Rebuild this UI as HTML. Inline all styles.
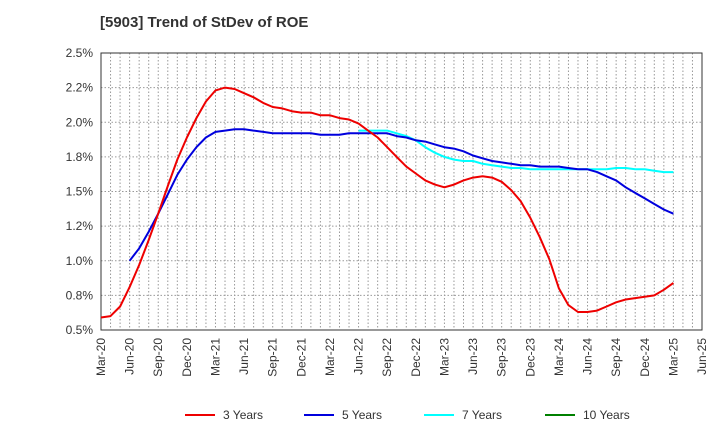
<!DOCTYPE html>
<html><head><meta charset="utf-8"><style>
body{margin:0;background:#fff;font-family:"Liberation Sans",sans-serif}
svg text{font-family:"Liberation Sans",sans-serif}
</style></head><body>
<svg id="c" width="720" height="440">
<text x="100" y="27" font-size="15" font-weight="bold" fill="#333">[5903]  Trend of StDev of ROE</text>
</svg>
<script>
const xLabels=["Mar-20","Jun-20","Sep-20","Dec-20","Mar-21","Jun-21","Sep-21","Dec-21","Mar-22","Jun-22","Sep-22","Dec-22","Mar-23","Jun-23","Sep-23","Dec-23","Mar-24","Jun-24","Sep-24","Dec-24","Mar-25","Jun-25"];
const yTicks=[0.5,0.75,1.0,1.25,1.5,1.75,2.0,2.25,2.5];
const yTickLabels=["0.5%","0.8%","1.0%","1.2%","1.5%","1.8%","2.0%","2.2%","2.5%"];
const s3=[0.59,0.60,0.67,0.81,0.97,1.15,1.34,1.54,1.73,1.89,2.03,2.15,2.23,2.25,2.24,2.21,2.18,2.14,2.11,2.10,2.08,2.07,2.07,2.05,2.05,2.03,2.02,1.99,1.94,1.89,1.82,1.75,1.68,1.63,1.58,1.55,1.53,1.55,1.58,1.60,1.61,1.60,1.57,1.51,1.43,1.31,1.17,1.01,0.80,0.68,0.63,0.63,0.64,0.67,0.70,0.72,0.73,0.74,0.75,0.79,0.84];
const s5Start=3;
const s5=[1.00,1.09,1.21,1.34,1.48,1.62,1.73,1.82,1.89,1.93,1.94,1.95,1.95,1.94,1.93,1.92,1.92,1.92,1.92,1.92,1.91,1.91,1.91,1.92,1.92,1.92,1.92,1.92,1.90,1.89,1.87,1.86,1.84,1.82,1.81,1.79,1.76,1.74,1.72,1.71,1.70,1.69,1.69,1.68,1.68,1.68,1.67,1.66,1.66,1.64,1.61,1.58,1.53,1.49,1.45,1.41,1.37,1.34];
const s7Start=27;
const s7=[1.94,1.94,1.94,1.94,1.92,1.90,1.87,1.82,1.78,1.75,1.73,1.72,1.72,1.70,1.69,1.68,1.67,1.67,1.66,1.66,1.66,1.66,1.66,1.66,1.66,1.66,1.66,1.67,1.67,1.66,1.66,1.65,1.64,1.64];
const s10=[];
const svg=document.getElementById('c');const NS='http://www.w3.org/2000/svg';
const L=101,R=702,T=53,B=330;
const xM=m=>L+(R-L)*m/63;
const yV=v=>B-(v-0.5)/2*(B-T);
function mk(t,a,p){const e=document.createElementNS(NS,t);for(const k in a)e.setAttribute(k,a[k]);(p||svg).appendChild(e);return e;}
mk('rect',{x:L,y:T,width:R-L,height:B-T,fill:'#fff',stroke:'none'});
for(let m=1;m<63;m++){const g=mk('line',{x1:xM(m),x2:xM(m),y1:T,y2:B,stroke:'#999','stroke-dasharray':'1.5,2','stroke-width':1});

}
yTicks.forEach((v,i)=>{const y=yV(v);
if(i>0&&i<yTicks.length-1){const g=mk('line',{x1:L,x2:R,y1:y,y2:y,stroke:'#999','stroke-dasharray':'1.5,2'});

}
const t=mk('text',{x:L-8,y:y+4,'text-anchor':'end','font-size':12,fill:'#333'});t.textContent=yTickLabels[i];

});
xLabels.forEach((lb,i)=>{const x=xM(i*3);const t=mk('text',{transform:`translate(${x+4},${B+8}) rotate(-90)`,'text-anchor':'end','font-size':12,fill:'#333'});t.textContent=lb;

});
const fr=mk('rect',{x:L,y:T,width:R-L,height:B-T,fill:'none',stroke:'#333'});


function line(arr,start,color,name){if(!arr.length)return;const d=arr.map((v,i)=>(i?'L':'M')+xM(start+i).toFixed(1)+','+yV(v).toFixed(1)).join('');
const p=mk('path',{d:d,fill:'none',stroke:color,'stroke-width':2,'stroke-linejoin':'round'});

}
line(s7,s7Start,'#00ffff','series-7-years');
line(s5,s5Start,'#0000dd','series-5-years');
line(s3,0,'#ee0000','series-3-years');
line(s10,0,'#008000','series-10-years');
const leg=[["3 Years","#ee0000",185],["5 Years","#0000dd",304],["7 Years","#00ffff",424],["10 Years","#008000",545]];
leg.forEach(([n,c,x])=>{const g=mk('g',{});


mk('line',{x1:x,x2:x+30,y1:415,y2:415,stroke:c,'stroke-width':2},g);
const t=mk('text',{x:x+38,y:419,'font-size':12,fill:'#333'},g);t.textContent=n;});
</script>
</body></html>
